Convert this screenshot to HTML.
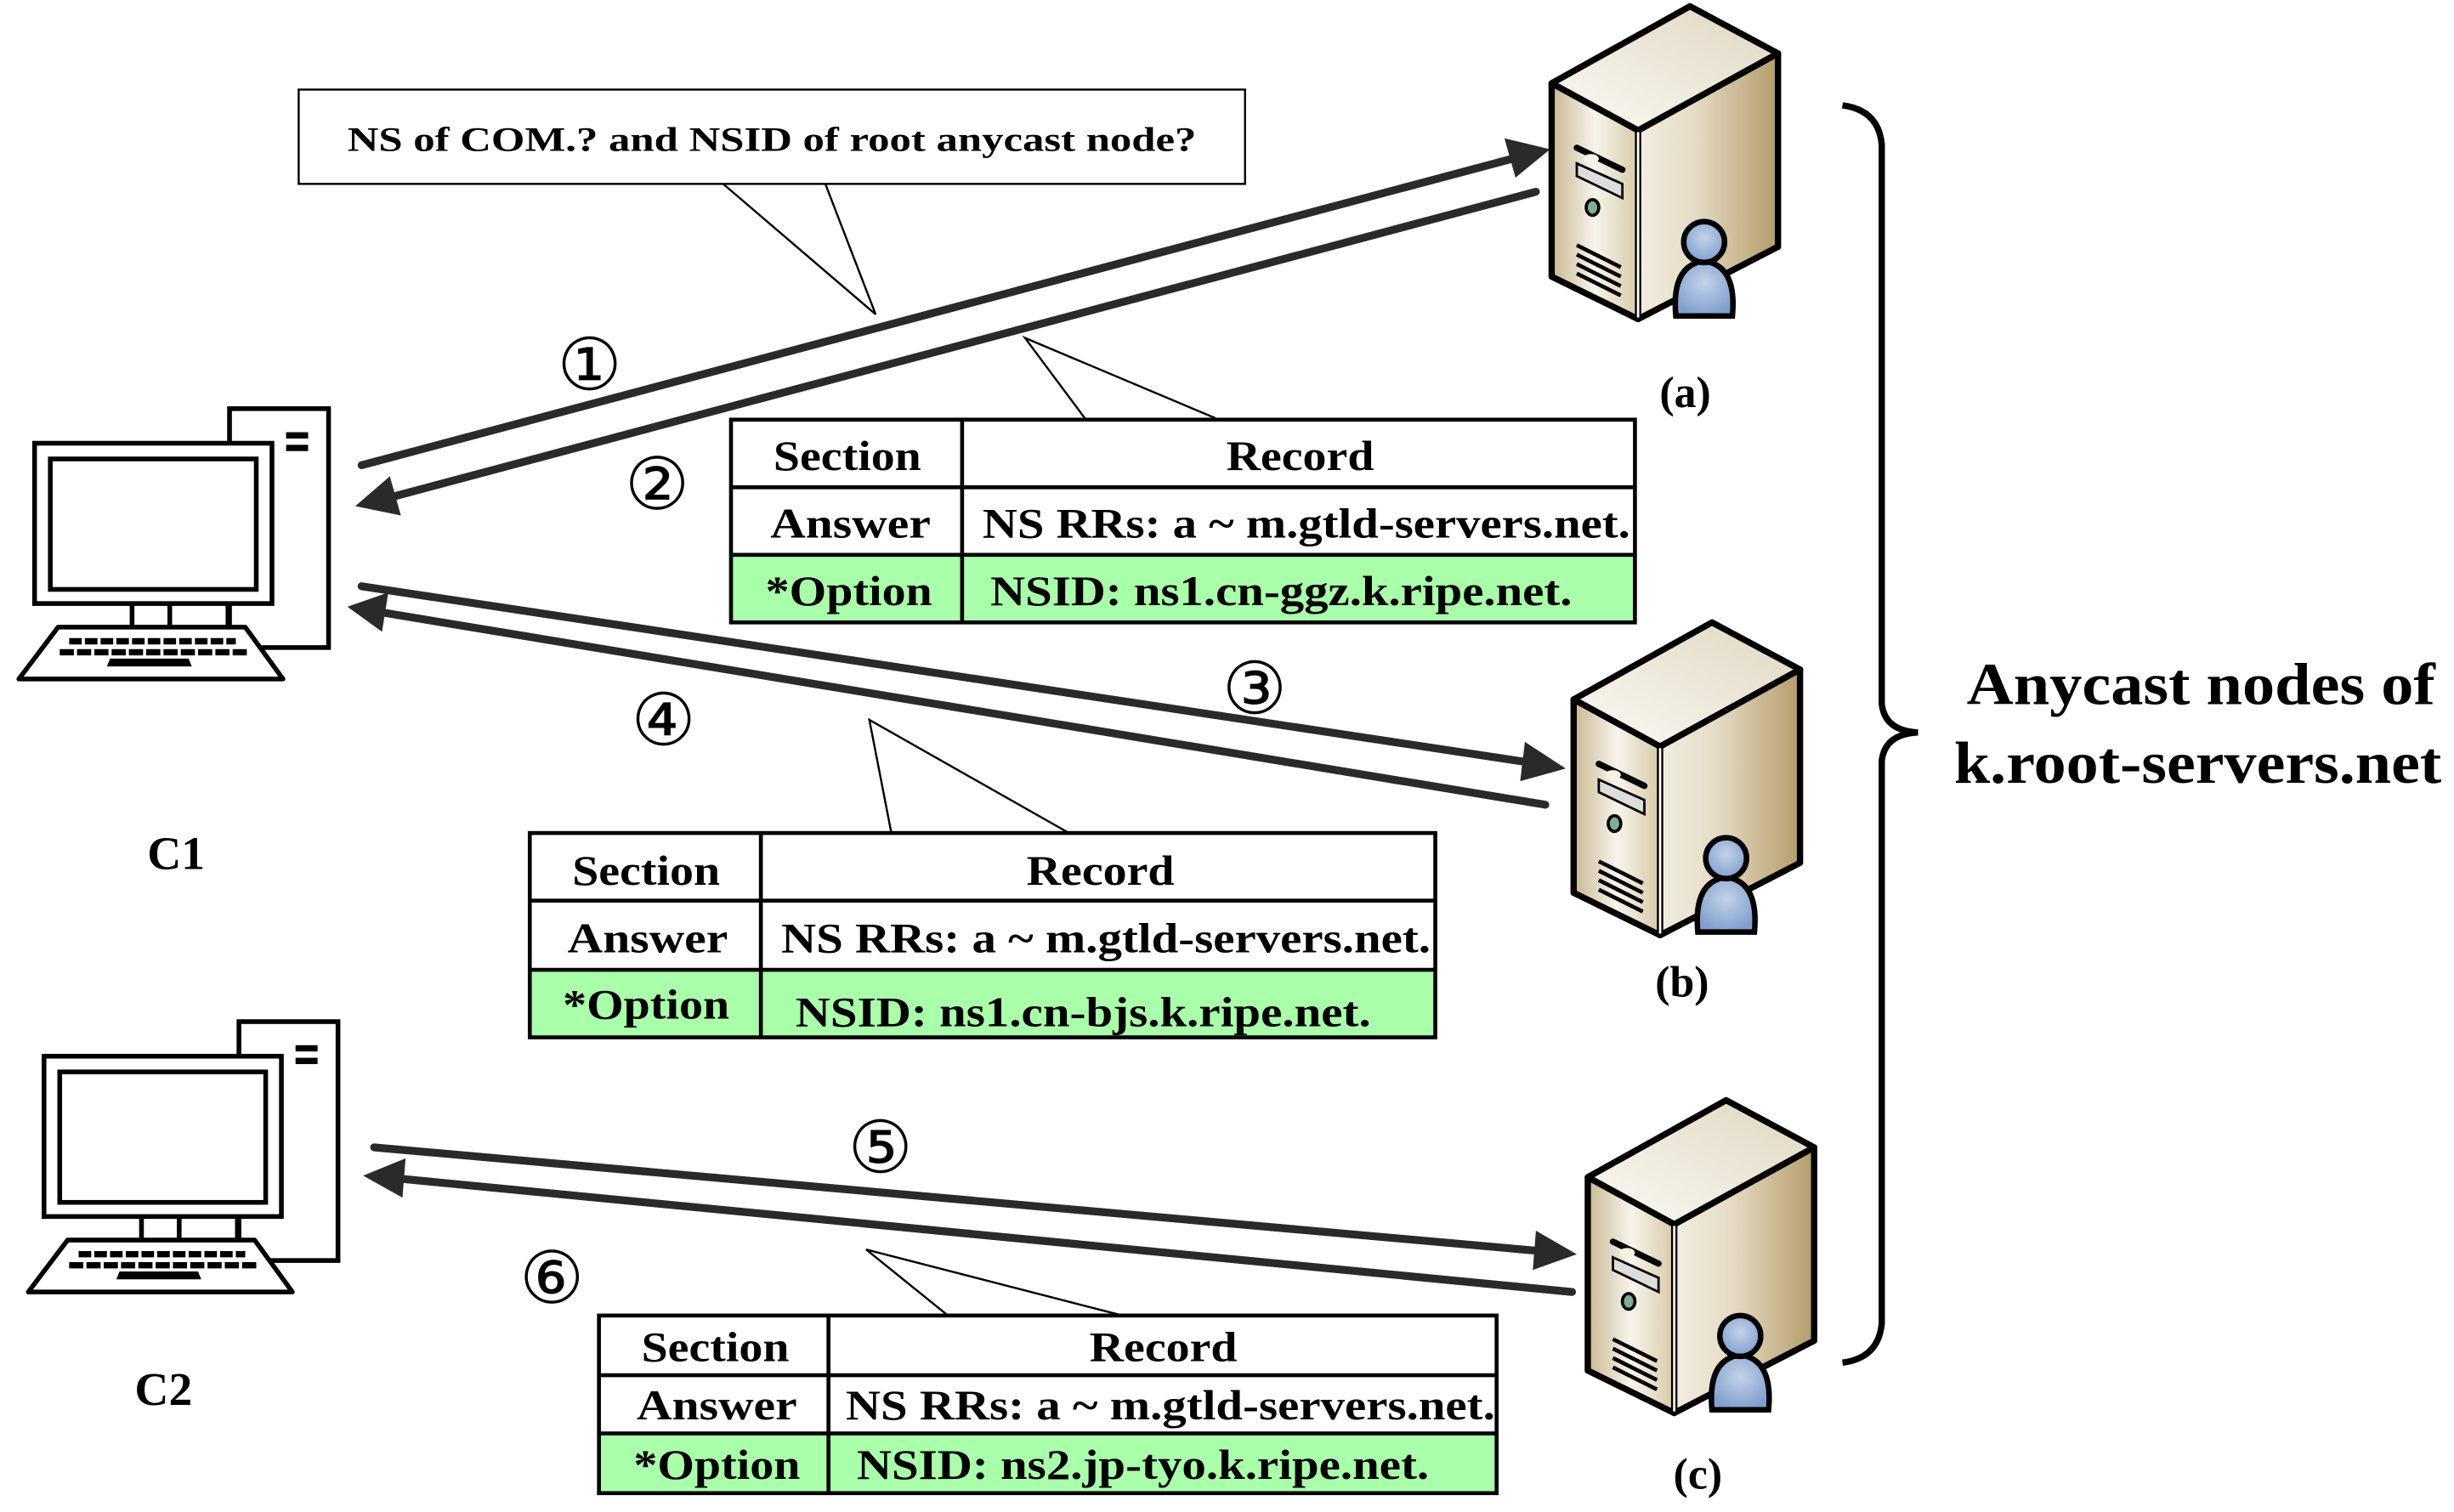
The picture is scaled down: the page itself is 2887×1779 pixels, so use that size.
<!DOCTYPE html>
<html><head><meta charset="utf-8"><style>
html,body{margin:0;padding:0;background:#fff;}
svg{display:block;}
text{font-family:"Liberation Serif",serif;font-weight:bold;fill:#000;}
</style></head><body>
<svg width="2887" height="1779" viewBox="0 0 1561 962" preserveAspectRatio="none" xmlns="http://www.w3.org/2000/svg">
<defs>
<linearGradient id="gl" x1="0" x2="1" y1="0" y2="0"><stop offset="0" stop-color="#c9b892"/><stop offset="0.5" stop-color="#f7f4ec"/><stop offset="1" stop-color="#d8caa8"/></linearGradient>
<linearGradient id="gr" x1="0" x2="1" y1="0" y2="0"><stop offset="0" stop-color="#f2ede2"/><stop offset="0.4" stop-color="#e6dcc6"/><stop offset="1" stop-color="#b39c6a"/></linearGradient>
<linearGradient id="gt" x1="0" x2="1" y1="1" y2="0"><stop offset="0" stop-color="#fbfaf6"/><stop offset="1" stop-color="#e0d6c0"/></linearGradient>
<radialGradient id="gp" cx="0.5" cy="0.4" r="0.6"><stop offset="0" stop-color="#c4d2e8"/><stop offset="1" stop-color="#7f9fcf"/></radialGradient>
<g id="srv">
 <polygon points="0,49 88,0 144,30 55,79" fill="url(#gt)" stroke="#000" stroke-width="4" stroke-linejoin="round"/>
 <polygon points="0,49 55,79 55,199 0,172" fill="url(#gl)" stroke="#000" stroke-width="4" stroke-linejoin="round"/>
 <polygon points="55,79 144,30 144,153 55,199" fill="url(#gr)" stroke="#000" stroke-width="4" stroke-linejoin="round"/>
 <line x1="55" y1="80" x2="55" y2="198" stroke="#fff" stroke-width="1.5"/>
 <line x1="16" y1="90" x2="45" y2="104" stroke="#000" stroke-width="4" stroke-linecap="round"/>
 <polygon points="16,100 45,113 45,122 16,108" fill="#ddd" stroke="#000" stroke-width="1.5"/>
 <ellipse cx="25" cy="97" rx="5" ry="3" fill="#f4f2e6"/>
 <ellipse cx="26" cy="128" rx="4" ry="5" fill="#7fae94" stroke="#000" stroke-width="2"/>
 <line x1="16" y1="152" x2="44" y2="166" stroke="#000" stroke-width="2.5"/>
 <line x1="16" y1="158" x2="44" y2="172" stroke="#000" stroke-width="2.5"/>
 <line x1="16" y1="164" x2="44" y2="178" stroke="#000" stroke-width="2.5"/>
 <line x1="16" y1="170" x2="44" y2="184" stroke="#000" stroke-width="2.5"/>
 <path d="M79,197 Q76,165 97,162 Q118,165 115,197 Z" fill="url(#gp)" stroke="#000" stroke-width="3.5"/>
 <circle cx="97" cy="150" r="13" fill="url(#gp)" stroke="#000" stroke-width="3.5"/>
</g>
<g id="pc">
 <rect x="146" y="260" width="63" height="152" fill="#fff" stroke="#000" stroke-width="3"/>
 <rect x="182" y="275" width="14" height="4" fill="#000"/>
 <rect x="182" y="283" width="14" height="4" fill="#000"/>
 <rect x="22" y="282" width="151" height="102" fill="#fff" stroke="#000" stroke-width="3"/>
 <rect x="32" y="292" width="131" height="83" fill="#fff" stroke="#000" stroke-width="3"/>
 <line x1="84" y1="384" x2="84" y2="399" stroke="#000" stroke-width="3"/>
 <line x1="108" y1="384" x2="108" y2="399" stroke="#000" stroke-width="3"/>
 <line x1="145" y1="384" x2="145" y2="399" stroke="#000" stroke-width="3"/>
 <polygon points="37,399 156,399 180,432 12,432" fill="#fff" stroke="#000" stroke-width="3" stroke-linejoin="round"/>
 <line x1="44" y1="408" x2="150" y2="408" stroke="#000" stroke-width="4" stroke-dasharray="8,2"/>
 <line x1="38" y1="415" x2="157" y2="415" stroke="#000" stroke-width="4" stroke-dasharray="9,2"/>
 <polygon points="70,419 120,419 122,424 68,424" fill="#000"/>
</g>
</defs>

<!-- callout -->
<rect x="190" y="57" width="602" height="60" fill="#fff" stroke="#000" stroke-width="1.3"/>
<text x="491" y="96" font-size="22" text-anchor="middle" textLength="540" lengthAdjust="spacingAndGlyphs">NS of COM.? and NSID of root anycast node?</text>
<polyline points="460,117 557,200 525,117" fill="none" stroke="#000" stroke-width="1.3"/>

<!-- arrows -->
<g stroke="#2a2a2a" stroke-width="5" stroke-linecap="round" fill="none">
<line x1="230" y1="296" x2="962" y2="101"/>
<line x1="977" y1="122" x2="250" y2="316"/>
<line x1="230" y1="373" x2="972" y2="485"/>
<line x1="983" y1="512" x2="245" y2="390"/>
<line x1="238" y1="730" x2="980" y2="796"/>
<line x1="1000" y1="822" x2="255" y2="750"/>
</g>
<g fill="#2a2a2a">
<polygon points="986,95 957,88 964,113"/>
<polygon points="226,322 255,328 248,303"/>
<polygon points="996,489 970,472 967,497"/>
<polygon points="221,386 247,377 243,402"/>
<polygon points="1003,798 977,783 975,808"/>
<polygon points="231,748 258,737 256,762"/>
</g>

<!-- circled numbers -->
<g font-size="46" text-anchor="middle">
<text x="375" y="248" style="font-weight:normal;font-family:'DejaVu Sans',sans-serif">①</text>
<text x="418" y="324" style="font-weight:normal;font-family:'DejaVu Sans',sans-serif">②</text>
<text x="798" y="454" style="font-weight:normal;font-family:'DejaVu Sans',sans-serif">③</text>
<text x="422" y="474" style="font-weight:normal;font-family:'DejaVu Sans',sans-serif">④</text>
<text x="560" y="746" style="font-weight:normal;font-family:'DejaVu Sans',sans-serif">⑤</text>
<text x="351" y="829" style="font-weight:normal;font-family:'DejaVu Sans',sans-serif">⑥</text>
</g>

<!-- callout tails for tables -->
<polyline points="690,266 652,215 773,266" fill="none" stroke="#000" stroke-width="1.3"/>
<polyline points="567,530 553,458 680,530" fill="none" stroke="#000" stroke-width="1.3"/>
<polyline points="603,837 551,795 714,837" fill="none" stroke="#000" stroke-width="1.3"/>

<!-- table a -->
<rect x="465" y="353" width="575" height="43" fill="#aaffaa"/>
<rect x="465" y="267" width="575" height="129" fill="none" stroke="#000" stroke-width="2.5"/>
<line x1="465" y1="310" x2="1040" y2="310" stroke="#000" stroke-width="2.5"/>
<line x1="465" y1="353" x2="1040" y2="353" stroke="#000" stroke-width="2.5"/>
<line x1="612" y1="267" x2="612" y2="396" stroke="#000" stroke-width="2.5"/>
<g font-size="27">
<text x="539" y="299" text-anchor="middle" textLength="94" lengthAdjust="spacingAndGlyphs">Section</text>
<text x="827" y="299" text-anchor="middle" textLength="94" lengthAdjust="spacingAndGlyphs">Record</text>
<text x="541" y="342" text-anchor="middle" textLength="102" lengthAdjust="spacingAndGlyphs">Answer</text>
<text x="625" y="342" textLength="412" lengthAdjust="spacingAndGlyphs">NS RRs: a ~ m.gtld-servers.net.</text>
<text x="540" y="385" text-anchor="middle" textLength="106" lengthAdjust="spacingAndGlyphs">*Option</text>
<text x="630" y="385" textLength="370" lengthAdjust="spacingAndGlyphs">NSID: ns1.cn-ggz.k.ripe.net.</text>
</g>

<!-- table b -->
<rect x="337" y="617" width="576" height="43" fill="#aaffaa"/>
<rect x="337" y="530" width="576" height="130" fill="none" stroke="#000" stroke-width="2.5"/>
<line x1="337" y1="573" x2="913" y2="573" stroke="#000" stroke-width="2.5"/>
<line x1="337" y1="617" x2="913" y2="617" stroke="#000" stroke-width="2.5"/>
<line x1="484" y1="530" x2="484" y2="660" stroke="#000" stroke-width="2.5"/>
<g font-size="27">
<text x="411" y="563" text-anchor="middle" textLength="94" lengthAdjust="spacingAndGlyphs">Section</text>
<text x="700" y="563" text-anchor="middle" textLength="94" lengthAdjust="spacingAndGlyphs">Record</text>
<text x="412" y="606" text-anchor="middle" textLength="102" lengthAdjust="spacingAndGlyphs">Answer</text>
<text x="497" y="606" textLength="413" lengthAdjust="spacingAndGlyphs">NS RRs: a ~ m.gtld-servers.net.</text>
<text x="411" y="648" text-anchor="middle" textLength="106" lengthAdjust="spacingAndGlyphs">*Option</text>
<text x="506" y="653" textLength="366" lengthAdjust="spacingAndGlyphs">NSID: ns1.cn-bjs.k.ripe.net.</text>
</g>

<!-- table c -->
<rect x="381" y="912" width="571" height="38" fill="#aaffaa"/>
<rect x="381" y="837" width="571" height="113" fill="none" stroke="#000" stroke-width="2.5"/>
<line x1="381" y1="875" x2="952" y2="875" stroke="#000" stroke-width="2.5"/>
<line x1="381" y1="912" x2="952" y2="912" stroke="#000" stroke-width="2.5"/>
<line x1="527" y1="837" x2="527" y2="950" stroke="#000" stroke-width="2.5"/>
<g font-size="27">
<text x="455" y="866" text-anchor="middle" textLength="94" lengthAdjust="spacingAndGlyphs">Section</text>
<text x="740" y="866" text-anchor="middle" textLength="94" lengthAdjust="spacingAndGlyphs">Record</text>
<text x="456" y="903" text-anchor="middle" textLength="102" lengthAdjust="spacingAndGlyphs">Answer</text>
<text x="538" y="903" textLength="413" lengthAdjust="spacingAndGlyphs">NS RRs: a ~ m.gtld-servers.net.</text>
<text x="456" y="941" text-anchor="middle" textLength="106" lengthAdjust="spacingAndGlyphs">*Option</text>
<text x="545" y="941" textLength="364" lengthAdjust="spacingAndGlyphs">NSID: ns2.jp-tyo.k.ripe.net.</text>
</g>

<!-- servers -->
<use href="#srv" transform="translate(987,4)"/>
<use href="#srv" transform="translate(1001,396)"/>
<use href="#srv" transform="translate(1010,700)"/>
<g font-size="28" text-anchor="middle">
<text x="1072" y="259">(a)</text>
<text x="1070" y="634">(b)</text>
<text x="1080" y="947">(c)</text>
</g>

<!-- computers -->
<use href="#pc"/>
<use href="#pc" transform="translate(6,390)"/>
<text x="112" y="553" font-size="30" text-anchor="middle">C1</text>
<text x="104" y="894" font-size="30" text-anchor="middle">C2</text>

<!-- brace -->
<path d="M1172,67 Q1195,70 1197,92 L1197,448 Q1199,465 1220,466 Q1199,467 1197,484 L1197,842 Q1195,864 1172,867" fill="none" stroke="#000" stroke-width="4"/>
<text x="1400" y="448" font-size="38" text-anchor="middle" textLength="298" lengthAdjust="spacingAndGlyphs">Anycast nodes of</text>
<text x="1398" y="498" font-size="38" text-anchor="middle" textLength="310" lengthAdjust="spacingAndGlyphs">k.root-servers.net</text>
</svg>
</body></html>
